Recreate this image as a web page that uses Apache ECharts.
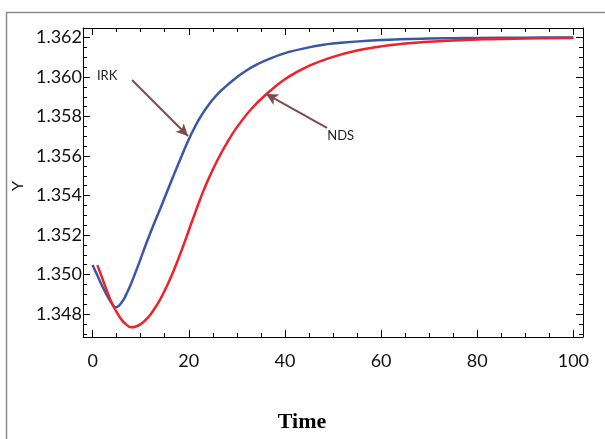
<!DOCTYPE html>
<html>
<head>
<meta charset="utf-8">
<script src="https://cdn.jsdelivr.net/npm/echarts@6/dist/echarts.min.js"></script>
<style>
html,body{margin:0;padding:0;background:#fff;}
#chart{width:605px;height:439px;}
</style>
</head>
<body>
<div id="chart"></div>
<script>
// ---- data ----
var irkTime = [0, 1, 2, 3, 4, 4.7, 5.5, 6.5, 7.1, 8, 9, 10, 11, 12, 13, 14, 15, 16, 17, 18, 19, 20, 21, 22, 23, 24, 25, 26, 27, 28, 30, 32, 34, 36, 40, 45, 50, 60, 70, 80, 90, 100];
var irkY    = [1.35048, 1.34995, 1.34942, 1.34894, 1.34853, 1.34835, 1.34843, 1.34876, 1.34905, 1.34954, 1.35016, 1.35081, 1.35147, 1.35210, 1.35271, 1.35329, 1.35390, 1.35451, 1.35511, 1.35570, 1.35628, 1.35684, 1.35734, 1.35780, 1.35820, 1.35855, 1.35886, 1.35913, 1.35937, 1.35959, 1.35999, 1.36033, 1.36061, 1.36084, 1.36121, 1.36150, 1.36169, 1.36187, 1.36195, 1.36198, 1.36199, 1.36200];

var ndsTime = [1, 2, 3, 4, 5, 6, 7, 8, 9, 10, 11, 12, 13, 14, 15, 16, 17, 18, 19, 20, 21, 22, 23, 24, 26, 28, 30, 33, 36, 40, 45, 50, 55, 60, 65, 70, 80, 90, 100];
var ndsY    = [1.35048, 1.34982, 1.34916, 1.34856, 1.34810, 1.34772, 1.34747, 1.34733, 1.34737, 1.34749, 1.34770, 1.34797, 1.34832, 1.34872, 1.34919, 1.34971, 1.35028, 1.35090, 1.35155, 1.35223, 1.35291, 1.35357, 1.35421, 1.35478, 1.35581, 1.35669, 1.35745, 1.35838, 1.35910, 1.35989, 1.36056, 1.36102, 1.36134, 1.36155, 1.36169, 1.36179, 1.36190, 1.36195, 1.36198];

var xMajor = [0, 20, 40, 60, 80, 100];
var xMinor = [5, 10, 15, 25, 30, 35, 45, 50, 55, 65, 70, 75, 85, 90, 95];
var yMajor = [1.348, 1.350, 1.352, 1.354, 1.356, 1.358, 1.360, 1.362];
var yMinor = [1.347, 1.3475, 1.3485, 1.349, 1.3495, 1.3505, 1.351, 1.3515, 1.3525, 1.353, 1.3535, 1.3545, 1.355, 1.3555, 1.3565, 1.357, 1.3575, 1.3585, 1.359, 1.3595, 1.3605, 1.361, 1.3615];
var xRange = [-2, 102];
var yRange = [1.34684, 1.36248];

// annotations: label anchor, arrow tail -> head (data coordinates)
var irkLabel = [0.9, 1.36005];
var irkArrow = [[8.19, 1.35985], [19.84, 1.35701]];
var ndsLabel = [48.8, 1.35701];
var ndsArrow = [[48.75, 1.35742], [36.06, 1.35914]];

function pairs(t, v) { return t.map(function (x, i) { return [x, v[i]]; }); }

var black = '#000';
var arrowColor = '#7b4c4c';

function xAxisDef(pos, ticks, len, showLine, showLabels) {
  return {
    type: 'value', position: pos, min: xRange[0], max: xRange[1],
    axisLine: { show: showLine, onZero: false, lineStyle: { color: black, width: 1 } },
    axisTick: { show: true, inside: true, length: len, customValues: ticks, lineStyle: { color: black, width: 1 } },
    axisLabel: showLabels ? { show: true, customValues: ticks, margin: 15, color: '#111', fontFamily: 'Lato', fontSize: 18 } : { show: false },
    splitLine: { show: false }
  };
}
function yAxisDef(pos, ticks, len, showLine, showLabels) {
  return {
    type: 'value', position: pos, min: yRange[0], max: yRange[1],
    axisLine: { show: showLine, onZero: false, lineStyle: { color: black, width: 1 } },
    axisTick: { show: true, inside: true, length: len, customValues: ticks, lineStyle: { color: black, width: 1 } },
    axisLabel: showLabels ? { show: true, customValues: ticks, margin: 1, color: '#111', fontFamily: 'Lato', fontSize: 18,
      formatter: function (v) { return v.toFixed(3); } } : { show: false },
    splitLine: { show: false }
  };
}

var chart = echarts.init(document.getElementById('chart'), null, { renderer: 'canvas' });
chart.setOption({
  animation: false,
  backgroundColor: '#fff',
  grid: { left: 83, top: 28, width: 500, height: 309, show: false },
  xAxis: [
    xAxisDef('bottom', xMajor, 7, true, true),
    xAxisDef('bottom', xMinor, 4, false, false),
    xAxisDef('top', xMajor, 7, true, false),
    xAxisDef('top', xMinor, 4, false, false)
  ],
  yAxis: [
    yAxisDef('left', yMajor, 7, true, true),
    yAxisDef('left', yMinor, 4, false, false),
    yAxisDef('right', yMajor, 7, true, false),
    yAxisDef('right', yMinor, 4, false, false)
  ],
  graphic: [
    { type: 'rect', left: 4, top: 10, silent: true,
      shape: { width: 700, height: 600 },
      style: { fill: 'none', stroke: '#8a8a8a', lineWidth: 1.5 } },
    { type: 'text', x: 302, y: 422, silent: true,
      style: { text: 'Time', fontFamily: 'Liberation Serif', fontWeight: 'bold', fontSize: 22, fill: '#000', align: 'center', verticalAlign: 'middle' } },
    { type: 'text', x: 18, y: 186, rotation: Math.PI / 2, silent: true,
      style: { text: 'Y', fontFamily: 'Lato', fontSize: 16, fill: '#111', align: 'center', verticalAlign: 'middle' } }
  ],
  series: [
    {
      name: 'IRK', type: 'line', data: pairs(irkTime, irkY), showSymbol: false,
      smooth: 0.4, lineStyle: { color: '#3a56a8', width: 2.5 }, itemStyle: { color: '#3a56a8' },
      markLine: {
        silent: true, symbol: ['none', 'arrow'], symbolSize: [9, 12],
        lineStyle: { color: arrowColor, width: 2, type: 'solid' }, label: { show: false },
        data: [[{ coord: irkArrow[0] }, { coord: irkArrow[1] }]]
      },
      markPoint: {
        silent: true, symbol: 'circle', symbolSize: 0,
        label: { show: true, position: [0, 0], align: 'left', verticalAlign: 'middle', color: '#222', fontFamily: 'Lato', fontSize: 13, formatter: 'IRK' },
        data: [{ coord: irkLabel }]
      }
    },
    {
      name: 'NDS', type: 'line', data: pairs(ndsTime, ndsY), showSymbol: false,
      smooth: 0.4, lineStyle: { color: '#f2202a', width: 2.5 }, itemStyle: { color: '#f2202a' },
      markLine: {
        silent: true, symbol: ['none', 'arrow'], symbolSize: [9, 12],
        lineStyle: { color: arrowColor, width: 2, type: 'solid' }, label: { show: false },
        data: [[{ coord: ndsArrow[0] }, { coord: ndsArrow[1] }]]
      },
      markPoint: {
        silent: true, symbol: 'circle', symbolSize: 0,
        label: { show: true, position: [0, 0], align: 'left', verticalAlign: 'middle', color: '#222', fontFamily: 'Lato', fontSize: 13, formatter: 'NDS' },
        data: [{ coord: ndsLabel }]
      }
    }
  ]
});
</script>
</body>
</html>
